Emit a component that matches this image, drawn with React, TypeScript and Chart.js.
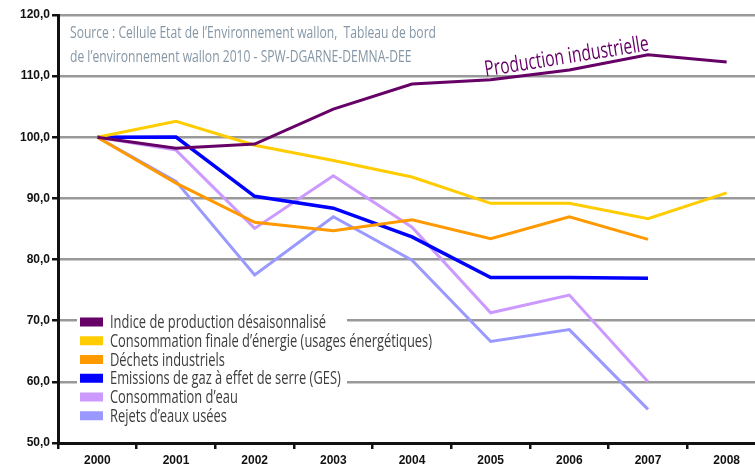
import React, { useEffect, useRef } from "react";
import { Chart, registerables } from "chart.js";

Chart.register(...registerables);

const years = ["2000", "2001", "2002", "2003", "2004", "2005", "2006", "2007", "2008"];
const production = [100, 98.2, 98.9, 104.6, 108.7, 109.4, 111.0, 113.5, 112.3];
const energie = [100, 102.6, 98.7, 96.2, 93.5, 89.2, 89.2, 86.7, 90.9];
const dechets = [100, 92.5, 86.1, 84.7, 86.5, 83.4, 87.0, 83.3, null];
const ges = [100, 100.05, 90.35, 88.4, 83.7, 77.05, 77.05, 76.95, null];
const eau = [100, 97.9, 85.1, 93.7, 85.3, 71.3, 74.2, 60.0, null];
const rejets = [100, 92.8, 77.5, 87.0, 79.9, 66.6, 68.55, 55.5, null];

const seriesNames = [
  "Indice de production désaisonnalisé",
  "Consommation finale d’énergie (usages énergétiques)",
  "Déchets industriels",
  "Emissions de gaz à effet de serre (GES)",
  "Consommation d’eau",
  "Rejets d’eaux usées",
];
const seriesColors = ["#660066", "#FFCC00", "#FF9900", "#0000FF", "#CC99FF", "#9999FF"];
const seriesData = [production, energie, dechets, ges, eau, rejets];

const sourceLines = [
  "Source : Cellule Etat de l’Environnement wallon,  Tableau de bord",
  "de l’environnement wallon 2010 - SPW-DGARNE-DEMNA-DEE",
];
const annotationText = "Production industrielle";

const CANVAS_W = 775;
const CANVAS_H = 468;
const FONT = "'Open Sans', 'Liberation Sans', sans-serif";
const AXIS_FONT = "'Liberation Sans', Arial, sans-serif";

function drawFitted(ctx: CanvasRenderingContext2D, text: string, x: number, y: number, sx: number) {
  ctx.save();
  ctx.translate(x, y);
  ctx.scale(sx, 1);
  ctx.fillText(text, 0, 0);
  ctx.restore();
}

const overlayPlugin = {
  id: "overlay",
  afterDraw(chart: any) {
    const ctx: CanvasRenderingContext2D = chart.ctx;
    const xs = chart.scales.x;
    const ys = chart.scales.y;
    ctx.save();

    // Source text
    ctx.font = `17px ${FONT}`;
    ctx.fillStyle = "#8597a6";
    ctx.textBaseline = "alphabetic";
    ctx.textAlign = "left";
    const srcScale = 366 / ctx.measureText(sourceLines[0]).width;
    drawFitted(ctx, sourceLines[0], 70, 38, srcScale);
    drawFitted(ctx, sourceLines[1], 70, 62, srcScale);

    // Legend
    const legLeft = 77;
    const legTop = 311;
    ctx.fillStyle = "#ffffff";
    ctx.fillRect(legLeft, legTop, 270, 115);
    ctx.font = `18px ${FONT}`;
    const legScale = 322 / ctx.measureText(seriesNames[1]).width;
    seriesNames.forEach((name, i) => {
      const cy = 322 + i * 18.75;
      ctx.fillStyle = seriesColors[i];
      ctx.fillRect(80, cy - 4.5, 23, 9);
      ctx.fillStyle = "#3c3c3c";
      ctx.textBaseline = "middle";
      drawFitted(ctx, name, 110, cy + 1, legScale);
    });

    // Annotation
    const ax = xs.getPixelForValue(5) - 5;
    const ay = ys.getPixelForValue(109.3) - 4;
    ctx.translate(ax, ay);
    ctx.rotate((-9 * Math.PI) / 180);
    ctx.font = `500 22px ${FONT}`;
    ctx.fillStyle = "#660066";
    ctx.textBaseline = "alphabetic";
    const annScale = 166 / ctx.measureText(annotationText).width;
    ctx.scale(annScale, 1);
    ctx.fillText(annotationText, 0, 0);
    ctx.restore();
  },
};

export default function App() {
  const ref = useRef<HTMLCanvasElement | null>(null);

  useEffect(() => {
    if (!ref.current) return;
    const chart = new Chart(ref.current, {
      type: "line",
      data: {
        labels: years,
        datasets: seriesData.map((d, i) => ({
          label: seriesNames[i],
          data: d,
          borderColor: seriesColors[i],
          backgroundColor: seriesColors[i],
          borderWidth: i === 3 ? 3.5 : 3,
          pointRadius: 0,
          tension: 0,
          spanGaps: false,
          fill: false,
        })),
      },
      options: {
        animation: false,
        responsive: false,
        layout: { padding: { top: 15, right: CANVAS_W - 766, left: 0, bottom: 0 } },
        plugins: { legend: { display: false }, tooltip: { enabled: false } },
        scales: {
          x: {
            type: "category",
            offset: true,
            afterFit: (s: any) => {
              s.height = 25;
            },
            grid: {
              display: true,
              offset: true,
              drawOnChartArea: false,
              drawTicks: true,
              tickLength: 6,
              tickColor: "#111",
              lineWidth: 2.5,
            },
            border: { display: true, color: "#111", width: 3 },
            ticks: {
              color: "#111",
              font: { family: AXIS_FONT, weight: "bold", size: 12 },
              padding: 4,
              maxRotation: 0,
            },
          },
          y: {
            min: 50,
            max: 120,
            afterFit: (s: any) => {
              s.width = 58;
            },
            ticks: {
              stepSize: 10,
              color: "#111",
              font: { family: AXIS_FONT, weight: "bold", size: 12 },
              padding: 2,
              callback: (v: any) => Number(v).toFixed(1).replace(".", ","),
            },
            grid: {
              color: "#999999",
              lineWidth: 2.5,
              tickColor: "#111",
              tickLength: 6,
            },
            border: { display: true, color: "#111", width: 3 },
          },
        },
      },
      plugins: [overlayPlugin],
    });
    return () => chart.destroy();
  }, []);

  return (
    <div style={{ position: "absolute", left: 0, top: 0, width: 755, height: 468, overflow: "hidden", background: "#fff" }}>
      <canvas ref={ref} width={CANVAS_W} height={CANVAS_H} style={{ width: CANVAS_W, height: CANVAS_H, display: "block" }} />
    </div>
  );
}
